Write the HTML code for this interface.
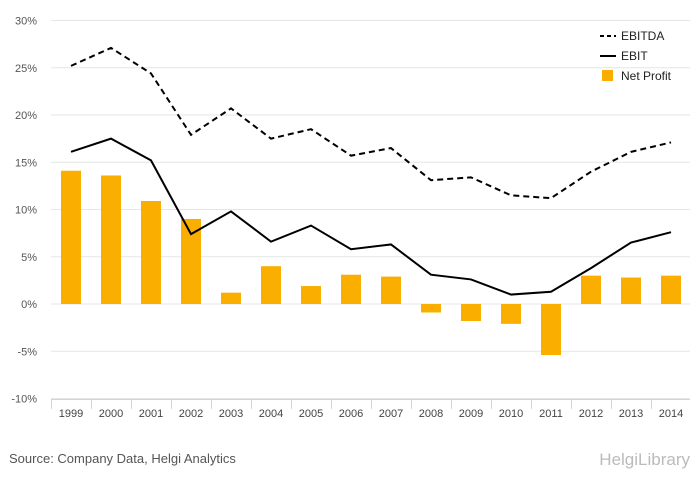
<!DOCTYPE html>
<html><head><meta charset="utf-8"><style>
body{margin:0;background:#fff;font-family:"Liberation Sans",sans-serif}
svg text{font-family:"Liberation Sans",sans-serif}
</style></head><body>
<svg id="c" width="700" height="483"></svg>
<script>
const categories=["1999","2000","2001","2002","2003","2004","2005","2006","2007","2008","2009","2010","2011","2012","2013","2014"];
const ebitda=[25.2,27.1,24.4,17.9,20.7,17.5,18.5,15.7,16.5,13.1,13.4,11.5,11.2,14.0,16.1,17.1];
const ebit=[16.1,17.5,15.2,7.4,9.8,6.6,8.3,5.8,6.3,3.1,2.6,1.0,1.3,3.8,6.5,7.6];
const netProfit=[14.1,13.6,10.9,9.0,1.2,4.0,1.9,3.1,2.9,-0.9,-1.8,-2.1,-5.4,3.0,2.8,3.0];
const yTicks=[30,25,20,15,10,5,0,-5,-10];
const NS="http://www.w3.org/2000/svg",svg=document.getElementById('c');
const x0=51,step=40,y=v=>304-v*9.45,x=i=>x0+step*i+20;
function mk(t,a,p){const e=document.createElementNS(NS,t);for(const k in a)e.setAttribute(k,a[k]);(p||svg).appendChild(e);return e;}
yTicks.forEach(t=>{
 const g=mk('line',{x1:x0,x2:690,y1:y(t),y2:y(t),stroke:'#e6e6e6'});
 
 
 const l=mk('text',{x:37,y:y(t)+4,'text-anchor':'end','font-size':11,fill:'#555'});l.textContent=t+'%';
 
 
});
netProfit.forEach((v,i)=>{
 const b=mk('rect',{x:x(i)-10,width:20,y:Math.min(y(v),y(0)),height:Math.abs(y(v)-y(0)),fill:'#f9ae00'});
 
 
});
const pts=a=>a.map((v,i)=>x(i)+','+y(v)).join(' ');
const l1=mk('polyline',{points:pts(ebitda),fill:'none',stroke:'#000','stroke-width':2,'stroke-dasharray':'6,4'});


const l2=mk('polyline',{points:pts(ebit),fill:'none',stroke:'#000','stroke-width':2});


const ax=mk('line',{x1:x0,x2:690,y1:399.5,y2:399.5,stroke:'#ccd6eb'});


categories.forEach((c,i)=>{
 const t=mk('text',{x:x(i),y:417,'text-anchor':'middle','font-size':11,fill:'#444'});t.textContent=c;
 
 
 const tk=mk('line',{x1:x0+step*i+.5,x2:x0+step*i+.5,y1:399,y2:409,stroke:'#ccd6eb'});
 
 
});
const leg=[["EBITDA","dash"],["EBIT","line"],["Net Profit","box"]];
leg.forEach((e,i)=>{
 const yy=36+i*20;
 if(e[1]=='box')mk('rect',{x:602,y:yy-6,width:11,height:11,fill:'#f9ae00'});
 else mk('line',{x1:600,x2:616,y1:yy,y2:yy,stroke:'#000','stroke-width':2,'stroke-dasharray':e[1]=='dash'?'4,3':'none'});
 const t=mk('text',{x:621,y:yy+4,'font-size':12,fill:'#222'});t.textContent=e[0];
 
 
});
const s=mk('text',{x:9,y:463,'font-size':13,fill:'#555'});s.textContent='Source: Company Data, Helgi Analytics';


const h=mk('text',{x:690,y:465,'text-anchor':'end','font-size':17,fill:'#bbb','font-family':'Liberation Serif'});h.textContent='HelgiLibrary';


</script>
</body></html>
